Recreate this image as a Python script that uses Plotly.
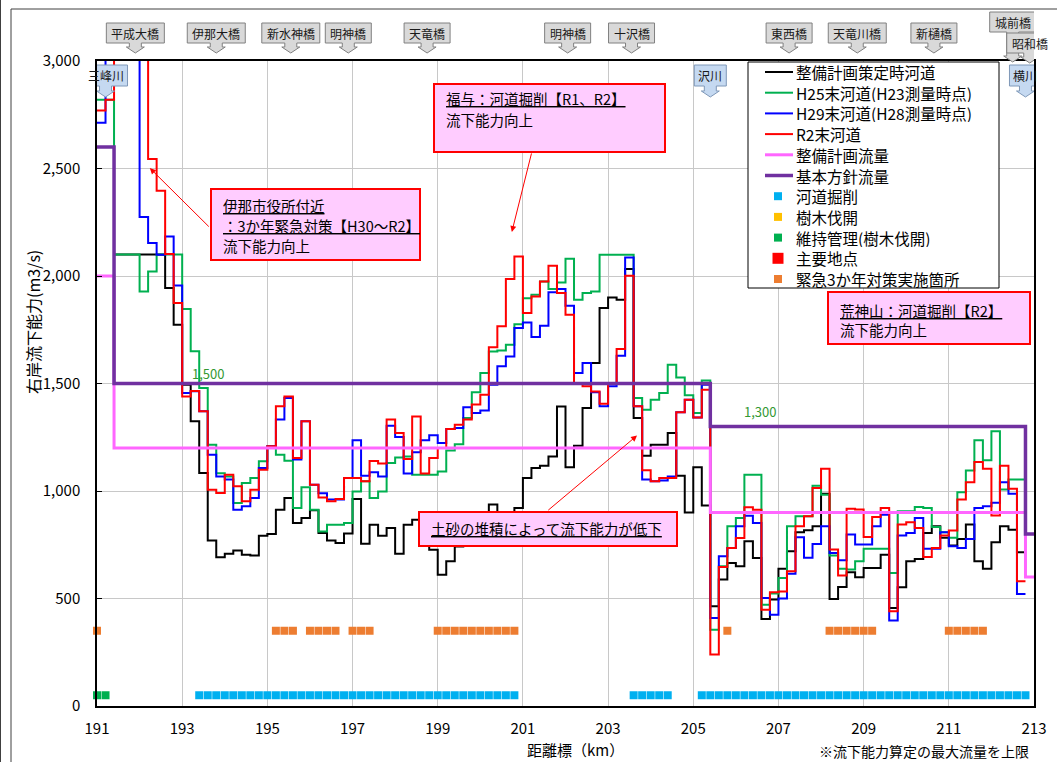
import plotly.graph_objects as go

FONT = "Noto Sans CJK JP"

# ---------------- data ----------------
# distance markers (km): 0.2 km sections, lines end at 212.8
KM = [round(191.0 + 0.2 * i, 1) for i in range(110)]

BLACK_Q = [2600, 2600, 2100, 2100, 2100, 2100, 2100, 2100, 1944, 1773,
           1494, 1324, 1084, 770, 692, 708, 723, 703, 700, 792,
           800, 913, 967, 851, 875, 910, 805, 770, 758, 802,
           963, 755, 843, 792, 828, 708, 843, 866, 851, 727,
           611, 673, 742, 760, 800, 880, 937, 900, 880, 921,
           1060, 1107, 1118, 1161, 1393, 1110, 1211, 1386, 1595, 1851,
           1900, 1889, 2032, 1339, 1164, 1215, 1215, 1270, 1071, 900,
           1111, 932, 464, 588, 665, 650, 766, 688, 405, 495,
           638, 720, 808, 817, 836, 987, 498, 554, 622, 599,
           642, 642, 704, 456, 552, 673, 684, 805, 836, 782,
           746, 777, 844, 673, 638, 762, 836, 820, 715]

GREEN_Q = [2820, 2820, 2100, 2100, 2100, 1928, 2021, 2100, 2100, 2100,
           1847, 1650, 1479, 1215, 1083, 1068, 944, 1037, 1060, 1138,
           1208, 1169, 1141, 921, 1018, 913, 812, 843, 843, 851,
           998, 1045, 967, 998, 1130, 1156, 1161, 1076, 1076, 1076,
           1091, 1188, 1218, 1339, 1459, 1549, 1649, 1654, 1680, 1776,
           1897, 1913, 1975, 1940, 1970, 2080, 1890, 1921, 1928, 2099,
           2099, 2099, 2099, 1432, 1378, 1425, 1456, 1587, 1528, 1445,
           1363, 1514, 355, 650, 836, 874, 1076, 1076, 471, 523,
           595, 836, 883, 883, 1025, 983, 700, 638, 635, 673,
           731, 731, 731, 619, 906, 906, 926, 921, 833, 808,
           782, 994, 1095, 1236, 1143, 1278, 1007, 1053, 1053]

BLUE_Q = [2713, 3100, 3100, 3100, 3100, 2274, 2153, 2099, 2184, 1956,
          1456, 1464, 1371, 1169, 1068, 1053, 913, 929, 967, 1107,
          1208, 1332, 1433, 1146, 1324, 1029, 990, 960, 960, 1060,
          1236, 1071, 1087, 1068, 1304, 1251, 1081, 1180, 1236, 1259,
          1223, 1288, 1293, 1389, 1363, 1374, 1494, 1580, 1626, 1758,
          1784, 1716, 1769, 1924, 1939, 1862, 1549, 1595, 1459, 1394,
          1487, 1629, 2086, 1394, 1053, 1045, 1049, 1068, 1366, 1425,
          1342, 1494, 409, 696, 735, 836, 885, 851, 502, 425,
          500, 615, 785, 689, 754, 836, 712, 678, 798, 751,
          751, 836, 890, 398, 793, 805, 875, 731, 731, 808,
          743, 735, 777, 921, 929, 945, 1041, 987, 521]

RED_Q = [2770, 2820, 3100, 3100, 3100, 3100, 2544, 2397, 2102, 1874,
         1440, 1465, 1371, 1006, 991, 1076, 1022, 952, 1006, 1099,
         1208, 1394, 1440, 1154, 1324, 1029, 970, 952, 963, 1060,
         1060, 1045, 1139, 1128, 1332, 1270, 1149, 1347, 1081, 1153,
         1200, 1288, 1308, 1332, 1402, 1448, 1669, 1766, 1986, 2091,
         1828, 1905, 1975, 2048, 1921, 1820, 1499, 1487, 1463, 1406,
         1499, 1660, 2001, 1394, 1096, 1045, 1060, 1060, 1366, 1425,
         1342, 1471, 239, 646, 735, 781, 924, 913, 448, 529,
         533, 627, 836, 883, 1014, 1103, 728, 607, 917, 914,
         786, 879, 921, 441, 844, 855, 828, 693, 735, 793,
         816, 960, 1041, 1135, 1103, 886, 1118, 1010, 580]

FLOW_KM = [191.0, 191.4, 205.4, 212.8, 213.0]
PLAN_Q = [2000, 1200, 900, 600, 600]       # 整備計画流量
BASIC_Q = [2600, 1500, 1300, 800, 800]     # 基本方針流量

# marker rows (start km, end km) every 0.2 km
EXCAV_SEGS = [(193.4, 200.8), (203.6, 204.4), (205.2, 212.8)]
MAINT_SEGS = [(191.0, 191.2)]
URGENT_SEGS = [(191.0, 191.0), (195.2, 195.6), (196.0, 196.6), (197.0, 197.4),
               (199.0, 200.8), (205.8, 205.8), (208.2, 209.2), (211.0, 211.8)]
EXCAV_LEVEL = 50
URGENT_LEVEL = 350

BRIDGES = ["平成大橋", "伊那大橋", "新水神橋", "明神橋", "天竜橋", "明神橋",
           "十沢橋", "東西橋", "天竜川橋", "新樋橋", "城前橋", "昭和橋"]
BRIDGE_KM = [191.9, 193.8, 195.55, 196.9, 198.75, 202.05,
             203.55, 207.25, 208.85, 210.65, 212.5, 212.9]
RIVERS = ["三峰川", "沢川", "横川"]
RIVER_KM = [191.2, 205.4, 212.8]

# ---------------- helpers ----------------
PL, PT, PW, PH = 97, 61, 937, 645


def px2x(px):
    return (px - PL) / PW


def py2y(py):
    return (PT + PH - py) / PH


def expand(segs):
    out = []
    for a, b in segs:
        n = int(round((b - a) / 0.2)) + 1
        out += [round(a + 0.2 * k, 1) for k in range(n)]
    return out


def steps(vals):
    return list(vals) + [vals[-1]]


fig = go.Figure()

LINE_SERIES = [
    ("整備計画策定時河道", BLACK_Q, "#000000"),
    ("H25末河道(H23測量時点)", GREEN_Q, "#00b050"),
    ("H29末河道(H28測量時点)", BLUE_Q, "#0000ff"),
    ("R2末河道", RED_Q, "#ff0000"),
]
for name, vals, color in LINE_SERIES:
    fig.add_trace(go.Scatter(x=KM, y=steps(vals), mode="lines", name=name,
                             line=dict(color=color, width=2, shape="hv")))

fig.add_trace(go.Scatter(x=FLOW_KM, y=PLAN_Q, mode="lines", name="整備計画流量",
                         line=dict(color="#ff66ff", width=3, shape="hv")))
fig.add_trace(go.Scatter(x=FLOW_KM, y=BASIC_Q, mode="lines", name="基本方針流量",
                         line=dict(color="#7030a0", width=3.5, shape="hv")))

ex = expand(EXCAV_SEGS)
fig.add_trace(go.Scatter(x=ex, y=[EXCAV_LEVEL] * len(ex), mode="markers", name="河道掘削",
                         cliponaxis=False,
                         marker=dict(symbol="square", size=8, color="#00b0f0")))
mt = expand(MAINT_SEGS)
fig.add_trace(go.Scatter(x=mt, y=[EXCAV_LEVEL] * len(mt), mode="markers", name="維持管理(樹木伐開)",
                         cliponaxis=False,
                         marker=dict(symbol="square", size=8, color="#00b050")))
ur = expand(URGENT_SEGS)
fig.add_trace(go.Scatter(x=ur, y=[URGENT_LEVEL] * len(ur), mode="markers", name="緊急3か年対策実施箇所",
                         cliponaxis=False,
                         marker=dict(symbol="square", size=8, color="#ed7d31")))

shapes = []
annots = []

# outer frame
shapes.append(dict(type="rect", xref="paper", yref="paper", x0=px2x(11), x1=px2x(1075),
                   y0=py2y(780), y1=py2y(9), line=dict(color="#404040", width=1)))
shapes.append(dict(type="line", xref="paper", yref="paper", x0=px2x(0.5), x1=px2x(0.5),
                   y0=py2y(780), y1=py2y(0), line=dict(color="#404040", width=1)))

# ---------------- legend (drawn box) ----------------
LEG_X0, LEG_Y0, LEG_X1, LEG_Y1 = 748, 62, 999, 288
shapes.append(dict(type="rect", xref="paper", yref="paper", x0=px2x(LEG_X0), x1=px2x(LEG_X1),
                   y0=py2y(LEG_Y1), y1=py2y(LEG_Y0), fillcolor="white",
                   line=dict(color="black", width=1), layer="above"))
LEGEND_ITEMS = [
    ("line", "整備計画策定時河道", "#000000", 2),
    ("line", "H25末河道(H23測量時点)", "#00b050", 2),
    ("line", "H29末河道(H28測量時点)", "#0000ff", 2),
    ("line", "R2末河道", "#ff0000", 2),
    ("line", "整備計画流量", "#ff66ff", 3),
    ("line", "基本方針流量", "#7030a0", 3.5),
    ("sq", "河道掘削", "#00b0f0", 8),
    ("sq", "樹木伐開", "#ffc000", 8),
    ("sq", "維持管理(樹木伐開)", "#00b050", 8),
    ("sq", "主要地点", "#ff0000", 11),
    ("sq", "緊急3か年対策実施箇所", "#ed7d31", 8),
]
for k, (kind, label, color, size) in enumerate(LEGEND_ITEMS):
    cy = 72 + 20.7 * k
    if kind == "line":
        shapes.append(dict(type="line", xref="paper", yref="paper", x0=px2x(765), x1=px2x(793),
                           y0=py2y(cy), y1=py2y(cy), line=dict(color=color, width=size),
                           layer="above"))
    else:
        h = size / 2.0
        shapes.append(dict(type="rect", xref="paper", yref="paper", x0=px2x(778 - h),
                           x1=px2x(778 + h), y0=py2y(cy + h), y1=py2y(cy - h),
                           fillcolor=color, line=dict(width=0), layer="above"))
    annots.append(dict(x=px2x(795), y=py2y(cy), xref="paper", yref="paper", text=label,
                       showarrow=False, xanchor="left", yanchor="middle",
                       height=18, borderpad=0,
                       font=dict(size=15.5, family=FONT, color="black")))


def callout(km, label, tip_py, top_py, bot_py, width, fill, edge, fsize):
    b = tip_py - bot_py
    t = tip_py - top_py
    hw = width / 2.0
    path = (f"M{-hw},{t} L{hw},{t} L{hw},{b} L6,{b} L6,6 L9,6 L0,0 L-9,6 "
            f"L-6,6 L-6,{b} L{-hw},{b} Z")
    shapes.append(dict(type="path", xref="x", yref="paper", xsizemode="pixel",
                       ysizemode="pixel", xanchor=km, yanchor=py2y(tip_py), path=path,
                       fillcolor=fill, line=dict(color=edge, width=1), layer="above"))
    annots.append(dict(x=km, y=py2y((top_py + bot_py) / 2.0), xref="x", yref="paper",
                       text=label, showarrow=False, xanchor="center", yanchor="middle",
                       font=dict(size=fsize, family=FONT, color="#1a1a1a")))


for name, km in zip(BRIDGES, BRIDGE_KM):
    w = 12 * len(name) + 10
    if name == "城前橋":
        callout(km, name, 62, 12, 32, w, "#d9d9d9", "#808080", 12)
    elif name == "昭和橋":
        callout(km, name, 63, 33, 53, w, "#d9d9d9", "#808080", 12)
    else:
        callout(km, name, 53, 23, 43, w, "#d9d9d9", "#808080", 12)

for name, km in zip(RIVERS, RIVER_KM):
    w = 12 * len(name) + 8
    callout(km, name, 97, 65, 86, w, "#c5d9f1", "#7f98b8", 12)

# text boxes
BOXFILL = "#ffccff"


def textbox(x0, y0, x1, y1, lines, fsize=14.5):
    shapes.append(dict(type="rect", xref="paper", yref="paper", x0=px2x(x0), x1=px2x(x1),
                       y0=py2y(y1), y1=py2y(y0), fillcolor=BOXFILL,
                       line=dict(color="#ff0000", width=2), layer="above"))
    for (txt, ly) in lines:
        annots.append(dict(x=px2x(x0 + 10), y=py2y(ly), xref="paper", yref="paper",
                           text=txt, showarrow=False, xanchor="left", yanchor="middle",
                           font=dict(size=fsize, family=FONT, color="black")))


textbox(211, 189, 420, 260, [("<u>伊那市役所付近</u>", 205),
                             ("<u>：3か年緊急対策【H30～R2】</u>", 225),
                             ("流下能力向上", 245)])
textbox(434, 84, 665, 152, [("<u>福与：河道掘削【R1、R2】</u>", 99),
                            ("流下能力向上", 119)])
textbox(828, 292, 1030, 344, [("<u>荒神山：河道掘削【R2】</u>", 310),
                              ("流下能力向上", 329)])
textbox(419, 512, 677, 546, [("<u>土砂の堆積によって流下能力が低下</u>", 528)])

# arrows (head km/value, tail km/value)
for hx, hy, tx, ty in [(192.24, 2502, 193.66, 2223),
                       (200.74, 2205, 201.21, 2577),
                       (203.68, 1258, 201.56, 905)]:
    annots.append(dict(x=hx, y=hy, ax=tx, ay=ty, xref="x", yref="y", axref="x", ayref="y",
                       text="", showarrow=True, arrowhead=2, arrowsize=1.2, arrowwidth=1,
                       arrowcolor="#ff0000"))

# flow value labels
for km, q, txt in [(193.6, 1545, "1,500"), (206.56, 1372, "1,300"), (213.28, 744, "800")]:
    annots.append(dict(x=km, y=q, xref="x", yref="y", text=txt, showarrow=False,
                       font=dict(size=13, family=FONT, color="#339933")))

# axis titles and note
annots.append(dict(x=px2x(33), y=py2y(322), xref="paper", yref="paper",
                   xanchor="center", yanchor="middle",
                   text="右岸流下能力(m3/s)", textangle=-90, showarrow=False,
                   font=dict(size=16, family=FONT, color="black")))
annots.append(dict(x=px2x(575), y=py2y(749), xref="paper", yref="paper",
                   xanchor="center", yanchor="middle",
                   text="距離標（km）", showarrow=False,
                   font=dict(size=15, family=FONT, color="black")))
annots.append(dict(x=px2x(1031), y=py2y(751), xref="paper", yref="paper",
                   xanchor="right", yanchor="middle",
                   text="※流下能力算定の最大流量を上限", showarrow=False,
                   font=dict(size=14, family=FONT, color="black")))

fig.update_layout(
    width=1057, height=762,
    margin=dict(l=PL, r=1057 - PL - PW, t=PT, b=762 - PT - PH),
    paper_bgcolor="white", plot_bgcolor="white",
    font=dict(family=FONT, size=14, color="black"),
    showlegend=False,
    xaxis=dict(range=[191, 213], tick0=191, dtick=2, showgrid=True, gridcolor="#c8c8c8",
               gridwidth=1, showline=True, linecolor="black", linewidth=1.5, mirror=True,
               ticks="", ticklabelstandoff=8, zeroline=False,
               tickfont=dict(size=15, family=FONT, color="black")),
    yaxis=dict(range=[0, 3000], dtick=500, tickformat=",", showgrid=True,
               gridcolor="#c8c8c8", gridwidth=1, showline=True, linecolor="black",
               linewidth=1.5, mirror=True, ticks="inside", ticklen=5, tickcolor="black",
               ticklabelstandoff=12, zeroline=False,
               tickfont=dict(size=15, family=FONT, color="black")),
    shapes=shapes,
    annotations=annots,
)

fig.write_html("out.html", include_plotlyjs=True, config={"displayModeBar": False},
               post_script="document.body.style.margin='0px';document.body.style.overflow='hidden';")
